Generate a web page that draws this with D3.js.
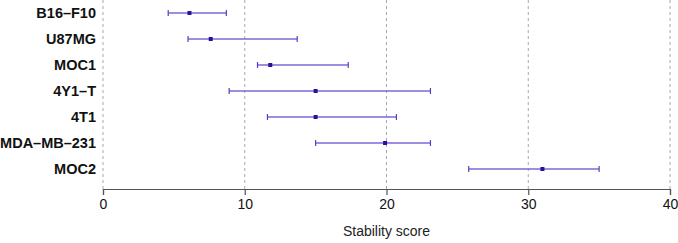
<!DOCTYPE html>
<html>
<head>
<meta charset="utf-8">
<script src="https://cdn.jsdelivr.net/npm/d3@7"></script>
<style>
  body { margin: 0; background: #fff; }
  text { font-family: "Liberation Sans", Arial, sans-serif; }
</style>
</head>
<body>
<div id="chart"></div>
<script>
// data
let cellLines = ["B16–F10", "U87MG", "MOC1", "4Y1–T", "4T1", "MDA–MB–231", "MOC2"];
let scores = [6.1, 7.6, 11.8, 15.0, 15.0, 19.9, 31.0];
let lower = [4.6, 6.0, 10.9, 8.9, 11.6, 15.0, 25.8];
let upper = [8.7, 13.7, 17.3, 23.1, 20.7, 23.1, 35.0];
let xTicks = [0, 10, 20, 30, 40];

let data = cellLines.map(function(d, i) {
    return {name: d, score: scores[i], lo: lower[i], hi: upper[i]};
});

let margin = {top: 0, right: 8, bottom: 54, left: 103},
    width = 678 - margin.left - margin.right,
    height = 243 - margin.top - margin.bottom;

let x = d3.scaleLinear().domain([0, 40]).range([0, width]);
let y = d3.scalePoint().domain(cellLines).range([13, 169]);

let svg = d3.select("#chart").append("svg")
    .attr("width", 678)
    .attr("height", 243)
    .append("g")
    .attr("transform", "translate(" + margin.left + "," + margin.top + ")");

// dashed vertical grid
svg.selectAll(".grid")
    .data(xTicks)
    .enter().append("line")
    .attr("x1", function(d) { return x(d); })
    .attr("x2", function(d) { return x(d); })
    .attr("y1", 0)
    .attr("y2", height)
    .attr("stroke", "#a8a8a8")
    .attr("stroke-width", 1)
    .attr("stroke-dasharray", "3,3");

// x axis
let xAxis = svg.append("g")
    .attr("transform", "translate(0," + height + ")")
    .call(d3.axisBottom(x).tickValues(xTicks).tickSize(6).tickPadding(4));
xAxis.select(".domain").attr("stroke", "#555").attr("stroke-width", 1.2);
xAxis.selectAll(".tick line").attr("stroke", "#555").attr("stroke-width", 1.2);
xAxis.selectAll("text")
    .attr("font-size", 14)
    .attr("fill", "#111")
    .style("font-family", "'Liberation Sans', Arial, sans-serif");

svg.append("text")
    .attr("x", width / 2)
    .attr("y", height + 47)
    .attr("text-anchor", "middle")
    .attr("font-size", 14)
    .attr("fill", "#222")
    .text("Stability score");

// row labels
svg.selectAll(".label")
    .data(data)
    .enter().append("text")
    .attr("x", -7)
    .attr("y", function(d) { return y(d.name); })
    .attr("dy", "0.36em")
    .attr("text-anchor", "end")
    .attr("font-size", 14.5)
    .attr("font-weight", "bold")
    .attr("fill", "#111")
    .text(function(d) { return d.name; });

// interval lines
svg.selectAll(".ci")
    .data(data)
    .enter().append("line")
    .attr("x1", function(d) { return x(d.lo); })
    .attr("x2", function(d) { return x(d.hi); })
    .attr("y1", function(d) { return y(d.name); })
    .attr("y2", function(d) { return y(d.name); })
    .attr("stroke", "#8166d6")
    .attr("stroke-width", 1.4);

// caps
["lo", "hi"].forEach(function(k) {
    svg.selectAll(".cap-" + k)
        .data(data)
        .enter().append("line")
        .attr("x1", function(d) { return x(d[k]); })
        .attr("x2", function(d) { return x(d[k]); })
        .attr("y1", function(d) { return y(d.name) - 3; })
        .attr("y2", function(d) { return y(d.name) + 3; })
        .attr("stroke", "#5a3cc4")
        .attr("stroke-width", 1.2);
});

// point estimates
svg.selectAll(".pt")
    .data(data)
    .enter().append("rect")
    .attr("x", function(d) { return x(d.score) - 2; })
    .attr("y", function(d) { return y(d.name) - 2; })
    .attr("width", 4)
    .attr("height", 4)
    .attr("fill", "#2b0f9c");
</script>
</body>
</html>
